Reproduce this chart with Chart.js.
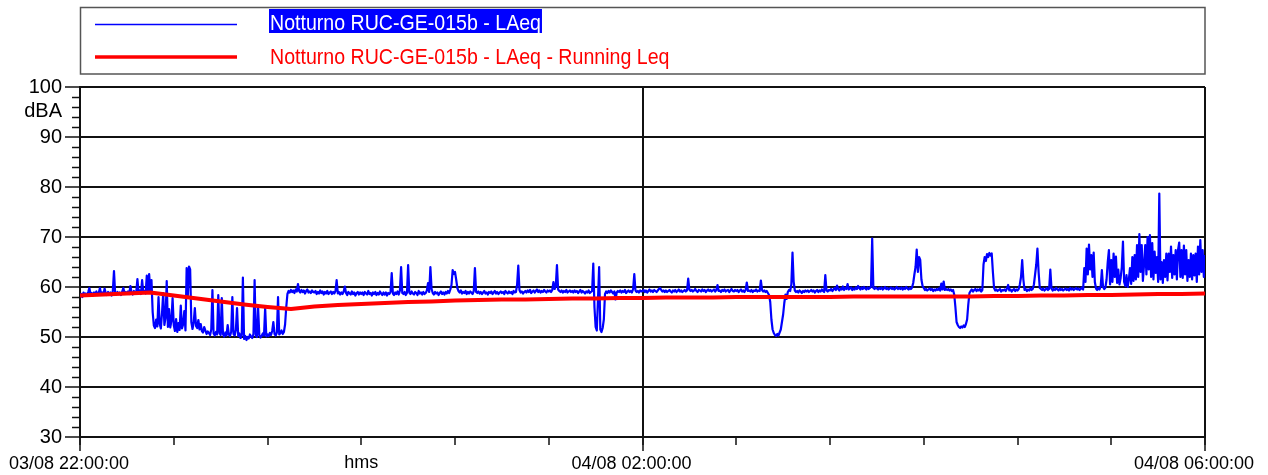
<!DOCTYPE html>
<html lang="it">
<head>
    <meta charset="UTF-8">
    <title>Notturno RUC-GE-015b - LAeq</title>
    <script src="https://cdn.jsdelivr.net/npm/chart.js"></script>
    <style>
        html, body {
            margin: 0;
            padding: 0;
            background: #fff;
        }
        canvas {
            display: block;
        }
    </style>
</head>
<body>
    <canvas id="leqChart" width="1268" height="475"></canvas>

    <script>
        // LAeq short samples, one every 30 s from 03/08 22:00:00 to 04/08 06:00:00
        // (each row is 10 minutes)
        const laeqStepMin = 0.5;
        const laeq = [
            58.2, 58.6, 58.0, 58.9, 58.4, 58.7, 58.3, 59.0, 59.8, 58.5, 58.8, 58.3, 58.9, 58.6, 59.1, 58.4, 58.8, 59.8, 58.6, 58.9,
            58.5, 59.7, 58.7, 58.4, 59.0, 58.6, 58.9, 58.3, 59.2, 63.2, 58.7, 58.5, 59.0, 58.6, 58.9, 58.4, 59.1, 59.8, 58.7, 59.0,
            58.8, 59.1, 58.6, 60.2, 58.9, 58.5, 59.2, 58.7, 59.0, 61.6, 58.8, 59.3, 58.6, 61.4, 58.9, 59.2, 58.7, 62.3, 59.0, 62.6,
            59.0, 61.4, 55.0, 52.3, 51.8, 53.5, 52.1, 58.0, 52.6, 51.7, 54.8, 58.8, 52.4, 53.9, 61.2, 52.0, 55.6, 51.9, 53.2, 57.8,
            52.4, 51.2, 53.6, 51.0, 52.8, 51.4, 56.3, 51.7, 52.5, 55.2, 51.3, 63.8, 58.2, 64.1, 63.5, 53.0, 51.6, 52.9, 55.8, 52.2,
            51.8, 53.4, 51.5, 52.6, 51.2, 50.9, 52.0, 51.3, 50.6, 51.1, 50.8, 50.4, 51.5, 59.4, 50.7, 50.3, 51.0, 50.5, 58.4, 50.8,
            50.4, 57.8, 50.6, 50.1, 50.9, 50.3, 52.4, 50.5, 50.2, 51.0, 58.0, 50.6, 50.3, 51.4, 55.8, 50.2, 50.7, 49.8, 50.4, 61.9,
            49.6, 50.2, 49.4, 50.0, 49.7, 50.5, 50.1, 49.8, 50.6, 61.4, 50.3, 50.0, 55.8, 50.4, 49.9, 50.2, 50.7, 50.3, 55.8, 50.1,
            50.5, 50.2, 50.8, 50.4, 51.2, 53.0, 50.6, 50.3, 50.9, 58.0, 50.5, 50.8, 51.3, 50.6, 51.0, 52.5, 56.0, 58.6, 59.2, 58.9,
            59.4, 59.0, 59.3, 58.8, 59.5, 59.1, 60.6, 59.2, 58.9, 59.4, 59.0, 59.3, 58.7, 59.2, 59.5, 58.9, 59.1, 58.8, 59.3, 59.0,
            58.9, 59.2, 58.6, 59.0, 58.7, 59.3, 58.8, 59.1, 58.5, 59.0, 58.7, 59.2, 58.6, 58.9, 59.1, 58.6, 59.0, 58.7, 59.2, 61.4,
            58.7, 59.0, 58.5, 58.9, 58.6, 59.1, 60.1, 58.8, 58.4, 59.0, 58.7, 58.5, 59.1, 58.6, 58.9, 58.3, 58.8, 59.0, 58.5, 58.9,
            58.6, 58.9, 58.4, 59.0, 58.7, 58.5, 59.2, 58.6, 58.8, 58.3, 58.9, 58.6, 59.0, 58.4, 58.8, 58.5, 59.1, 58.7, 58.4, 58.9,
            58.5, 58.9, 58.3, 58.8, 58.6, 59.0, 62.8, 58.7, 58.4, 58.9, 58.6, 59.1, 58.5, 59.3, 64.0, 58.8, 58.6, 59.0, 58.4, 58.8,
            64.4, 58.9, 58.6, 59.1, 58.7, 58.5, 59.0, 58.8, 58.4, 59.2, 58.7, 58.9, 58.5, 59.0, 58.6, 58.8, 59.3, 60.8, 59.0, 64.0,
            59.6, 58.8, 58.5, 59.0, 58.7, 58.9, 58.4, 58.8, 59.1, 58.6, 58.9, 58.5, 59.0, 58.7, 59.2, 58.8, 59.5, 60.4, 63.4, 62.6,
            63.0, 61.5, 59.8, 59.2, 58.9, 59.3, 58.7, 59.0, 58.8, 59.2, 58.6, 59.0, 58.7, 59.1, 58.9, 58.6, 59.2, 63.8, 59.0, 58.8,
            59.1, 58.7, 59.0, 58.6, 58.9, 59.2, 58.7, 58.9, 58.5, 59.0, 58.8, 59.1, 58.6, 58.9, 59.2, 58.7, 59.0, 58.6, 58.9, 59.1,
            58.8, 59.0, 58.6, 59.2, 58.9, 58.7, 59.1, 58.8, 59.0, 58.6, 59.2, 58.9, 59.0, 60.5, 64.3, 59.4, 58.9, 59.1, 58.7, 59.0,
            59.2, 58.9, 59.3, 59.0, 59.4, 58.8, 59.1, 59.3, 58.9, 59.2, 59.5, 59.0, 59.3, 58.9, 59.2, 59.0, 59.4, 59.1, 58.9, 59.3,
            59.1, 59.3, 59.0, 59.4, 61.0, 59.6, 60.2, 64.4, 59.5, 59.2, 59.0, 59.3, 58.9, 59.2, 59.0, 59.4, 58.9, 59.1, 59.3, 59.0,
            59.2, 58.9, 59.3, 59.0, 59.2, 58.8, 59.1, 59.4, 58.9, 59.2, 59.0, 58.7, 59.1, 58.9, 59.3, 58.8, 59.0, 59.2, 64.7, 56.0,
            52.0, 51.3, 57.5, 64.0, 51.5, 51.0, 51.8, 53.5, 58.6, 59.1, 58.8, 59.2, 58.9, 59.3, 59.0, 58.7, 59.1, 57.5, 58.9, 59.2,
            59.0, 59.3, 58.9, 59.2, 59.0, 59.4, 58.8, 59.1, 59.3, 59.0, 59.2, 58.9, 59.6, 62.6, 59.3, 59.0, 59.2, 58.9, 59.3, 59.1,
            59.2, 59.4, 59.0, 59.3, 58.9, 59.2, 59.5, 59.1, 59.3, 59.0, 59.4, 59.2, 59.0, 59.3, 59.6, 59.8, 59.4, 59.1, 59.3, 59.0,
            59.3, 59.0, 59.2, 59.4, 59.1, 58.9, 59.3, 59.1, 59.4, 59.0, 59.2, 59.5, 59.1, 59.3, 59.0, 59.2, 59.4, 59.1, 59.3, 61.7,
            59.5, 59.2, 59.4, 59.1, 59.3, 59.6, 59.2, 59.0, 59.4, 59.3, 59.1, 59.5, 59.2, 59.4, 59.0, 59.3, 59.5, 59.2, 59.4, 59.1,
            59.3, 59.5, 59.1, 59.4, 60.4, 59.2, 59.3, 59.0, 59.4, 59.2, 59.5, 59.1, 59.3, 59.4, 59.0, 59.3, 59.6, 59.2, 59.1, 59.4,
            59.2, 59.4, 59.0, 59.3, 59.5, 59.1, 59.3, 59.0, 59.4, 60.9, 59.2, 59.3, 59.1, 59.4, 59.0, 59.3, 59.2, 59.5, 59.1, 59.3,
            59.2, 61.3, 59.4, 59.1, 59.3, 59.0, 59.2, 58.8, 58.4, 57.0, 53.5, 51.5, 50.8, 50.4, 50.2, 50.6, 50.3, 50.9, 51.5, 53.0,
            54.5, 56.8, 58.5, 57.6, 59.0, 59.4, 59.2, 60.5, 66.9, 61.0, 59.3, 59.0, 59.2, 58.9, 59.3, 59.1, 58.8, 59.2, 59.0, 59.3,
            59.1, 59.3, 59.0, 59.2, 59.4, 59.1, 59.3, 58.9, 59.2, 59.4, 59.0, 59.3, 59.1, 59.5, 59.2, 59.0, 62.4, 59.3, 59.1, 59.4,
            59.3, 59.6, 59.2, 59.5, 59.8, 59.4, 60.3, 59.6, 59.3, 59.7, 59.5, 60.1, 59.4, 59.8, 59.6, 60.6, 59.5, 59.7, 59.9, 59.4,
            59.7, 59.5, 59.9, 59.6, 60.2, 59.8, 59.5, 59.9, 59.6, 60.0, 59.7, 59.5, 59.9, 59.6, 59.8, 60.1, 69.7, 59.8, 59.6, 59.9,
            59.7, 59.5, 59.8, 59.6, 59.9, 59.5, 59.7, 60.0, 59.6, 59.8, 59.5, 59.7, 59.9, 59.6, 59.8, 59.5, 59.7, 60.0, 59.6, 59.8,
            59.6, 59.9, 59.5, 59.8, 59.6, 60.0, 59.7, 59.5, 59.8, 59.6, 59.9, 60.8, 62.5, 64.0, 67.5, 63.0, 66.0, 65.4, 61.5, 60.2,
            59.8, 59.4, 59.6, 59.3, 59.5, 59.7, 59.4, 59.6, 59.2, 59.5, 59.3, 59.6, 59.4, 59.7, 59.3, 60.7, 59.5, 61.1, 59.4, 59.6,
            59.4, 59.6, 59.3, 59.5, 59.2, 59.4, 58.5, 56.0, 53.0, 52.4, 52.0, 51.8, 52.1, 51.9, 52.3, 52.0, 52.6, 53.5, 56.5, 58.8,
            59.2, 59.5, 59.1, 59.4, 59.6, 59.2, 59.5, 59.3, 59.6, 59.1, 59.4, 64.5, 66.0, 65.2, 66.6, 66.0, 66.8, 66.3, 66.7, 63.0,
            59.8, 59.3, 59.5, 59.2, 59.4, 59.6, 59.1, 59.4, 59.3, 59.5, 59.2, 59.7, 60.4, 59.3, 59.5, 59.1, 59.4, 59.6, 59.2, 59.5,
            59.3, 59.6, 60.5, 62.0, 65.4, 61.5, 59.4, 59.6, 59.2, 59.5, 59.3, 59.7, 59.4, 59.6, 60.5, 62.5, 64.5, 67.7, 63.0, 59.8,
            59.6, 59.4, 59.7, 59.3, 59.5, 59.8, 59.4, 59.6, 63.5, 59.7, 59.3, 59.6, 59.4, 59.8, 59.5, 59.3, 59.7, 59.4, 59.6, 59.3,
            59.5, 59.7, 59.4, 59.6, 59.3, 59.8, 59.5, 59.7, 59.4, 59.6, 59.8, 59.5, 59.7, 59.4, 59.6, 59.9, 59.5, 63.8, 61.0, 67.7,
            62.5, 68.5, 63.5, 66.4, 62.0, 66.9, 61.0, 59.7, 59.4, 59.8, 59.5, 60.2, 63.4, 60.0, 59.6, 59.9, 61.5, 65.0, 67.4, 60.5,
            65.4, 61.0, 66.7, 62.0, 66.1, 60.8, 63.5, 60.5, 61.8, 64.0, 69.1, 61.0, 60.2, 62.4, 60.0, 61.5, 63.8, 60.6, 66.0, 61.2,
            66.4, 61.5, 68.4, 62.0, 70.6, 63.0, 68.4, 61.2, 64.5, 68.4, 62.5, 70.0, 63.5, 70.4, 62.0, 68.8, 61.5, 67.1, 62.8, 66.0,
            61.0, 78.7, 61.5, 65.0, 60.8, 65.4, 62.0, 66.7, 61.3, 66.7, 63.0, 68.1, 61.8, 66.4, 62.5, 67.4, 61.5, 67.4, 68.9, 62.0,
            67.4, 61.8, 68.3, 62.5, 67.4, 61.2, 65.4, 62.0, 66.7, 61.5, 66.4, 62.3, 66.7, 61.0, 68.1, 62.5, 69.4, 63.0, 67.4, 62.0,
            66.4
        ];

        // Running Leq, one value every 10 minutes
        const leqStepMin = 10;
        const runningLeq = [
            58.3, 58.5, 58.7, 58.9, 58.3, 57.7, 57.1, 56.5, 56.0, 55.6,
            56.1, 56.4, 56.6, 56.8, 57.0, 57.1, 57.3, 57.4, 57.5, 57.5,
            57.6, 57.7, 57.7, 57.8, 57.8, 57.9, 57.9, 57.9, 58.0, 58.0,
            58.0, 58.0, 58.0, 58.1, 58.1, 58.1, 58.1, 58.1, 58.1, 58.2,
            58.2, 58.3, 58.3, 58.4, 58.4, 58.5, 58.6, 58.6, 58.7
        ];

        // Time axis in minutes after 22:00
        const xTickValues = [0, 240, 480];
        const xTickLabels = ['03/08 22:00:00', '04/08 02:00:00', '04/08 06:00:00'];
        const seriesNames = ['Notturno RUC-GE-015b - LAeq', 'Notturno RUC-GE-015b - LAeq - Running Leq'];

        const laeqPoints = laeq.map((v, i) => ({ x: i * laeqStepMin, y: v }));
        const leqPoints = runningLeq.map((v, i) => ({ x: i * leqStepMin, y: v }));

        const axisColor = '#111';
        Chart.defaults.font.family = '"Liberation Sans", Arial, sans-serif';
        Chart.defaults.color = '#000';

        // legend box, minor ticks and axis captions
        const extras = {
            id: 'extras',
            afterDraw(chart) {
                const ctx = chart.ctx;
                const area = chart.chartArea;
                const xs = chart.scales.x;
                const ys = chart.scales.y;
                ctx.save();

                // legend
                ctx.strokeStyle = '#555';
                ctx.lineWidth = 1.5;
                ctx.strokeRect(area.left + 0.5, 7.5, area.right - area.left - 0.5, 66.5);

                ctx.strokeStyle = '#0000ff';
                ctx.lineWidth = 1.5;
                ctx.beginPath();
                ctx.moveTo(95, 24.5);
                ctx.lineTo(237, 24.5);
                ctx.stroke();

                ctx.strokeStyle = '#ff0000';
                ctx.lineWidth = 3.5;
                ctx.beginPath();
                ctx.moveTo(95, 57);
                ctx.lineTo(237, 57);
                ctx.stroke();

                ctx.font = '22px "Liberation Sans", Arial, sans-serif';
                ctx.textBaseline = 'alphabetic';
                ctx.textAlign = 'left';
                const w1 = ctx.measureText(seriesNames[0]).width * 0.89;
                ctx.fillStyle = '#0000ff';
                ctx.fillRect(269, 9, w1 + 2, 24);

                ctx.save();
                ctx.translate(270, 29.5);
                ctx.scale(0.89, 1);
                ctx.fillStyle = '#fff';
                ctx.fillText(seriesNames[0], 0, 0);
                ctx.restore();

                ctx.save();
                ctx.translate(270, 63.5);
                ctx.scale(0.89, 1);
                ctx.fillStyle = '#ff0000';
                ctx.fillText(seriesNames[1], 0, 0);
                ctx.restore();

                // minor ticks on the dB axis, every 2 dB
                ctx.strokeStyle = axisColor;
                ctx.lineWidth = 1.5;
                ctx.beginPath();
                for (let v = ys.min; v <= ys.max; v += 2) {
                    if (v % 10 === 0) continue;
                    const py = Math.round(ys.getPixelForValue(v)) + 0.5;
                    ctx.moveTo(area.left - 8, py);
                    ctx.lineTo(area.left, py);
                }
                // longer ticks at the labelled times
                xTickValues.forEach(v => {
                    const px = Math.round(xs.getPixelForValue(v));
                    ctx.moveTo(px, area.bottom);
                    ctx.lineTo(px, area.bottom + 14);
                });
                ctx.stroke();

                ctx.fillStyle = '#000';
                ctx.font = '20px "Liberation Sans", Arial, sans-serif';
                ctx.textAlign = 'right';
                ctx.textBaseline = 'middle';
                ctx.fillText('dBA', area.left - 18, ys.getPixelForValue(95.2));

                ctx.font = '18px "Liberation Sans", Arial, sans-serif';
                ctx.textAlign = 'center';
                ctx.fillText('hms', xs.getPixelForValue(120), 463.5);

                ctx.restore();
            }
        };

        new Chart(document.getElementById('leqChart'), {
            type: 'line',
            data: {
                datasets: [
                    {
                        label: seriesNames[1],
                        data: leqPoints,
                        borderColor: '#ff0000',
                        borderWidth: 4,
                        pointRadius: 0,
                        order: 0
                    },
                    {
                        label: seriesNames[0],
                        data: laeqPoints,
                        borderColor: '#0000ff',
                        borderWidth: 2.2,
                        pointRadius: 0,
                        order: 1
                    }
                ]
            },
            options: {
                responsive: false,
                animation: false,
                devicePixelRatio: 1,
                layout: {
                    padding: { top: 87, right: 63, left: 0, bottom: 0 }
                },
                elements: {
                    line: { tension: 0, borderJoinStyle: 'round' }
                },
                plugins: {
                    legend: { display: false },
                    tooltip: { enabled: false }
                },
                scales: {
                    x: {
                        type: 'linear',
                        min: 0,
                        max: 480,
                        afterFit(scale) {
                            scale.height = 38;
                            scale.paddingLeft = 0;
                            scale.paddingRight = 0;
                        },
                        ticks: {
                            stepSize: 40,
                            autoSkip: false,
                            maxRotation: 0,
                            padding: 8,
                            labelOffset: -11,
                            font: { size: 18 },
                            callback(value) {
                                const i = xTickValues.indexOf(value);
                                return i >= 0 ? xTickLabels[i] : '';
                            }
                        },
                        grid: {
                            color: c => (c.tick && (c.tick.value === 240 || c.tick.value === 480)) ? axisColor : 'rgba(0,0,0,0)',
                            lineWidth: 2,
                            tickColor: axisColor,
                            tickWidth: 1.5,
                            tickLength: 8
                        },
                        border: { display: true, color: axisColor, width: 2 }
                    },
                    y: {
                        min: 30,
                        max: 100,
                        afterFit(scale) { scale.width = 80; },
                        ticks: {
                            stepSize: 10,
                            padding: 3,
                            font: { size: 20 }
                        },
                        grid: {
                            color: axisColor,
                            lineWidth: 2,
                            tickColor: axisColor,
                            tickWidth: 1.5,
                            tickLength: 15
                        },
                        border: { display: true, color: axisColor, width: 2 }
                    }
                }
            },
            plugins: [extras]
        });
    </script>
</body>
</html>
